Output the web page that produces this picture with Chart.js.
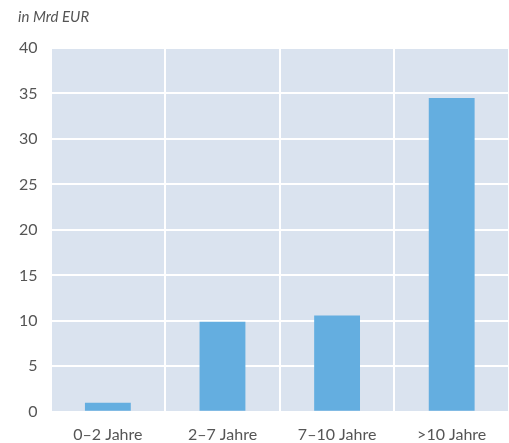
<!DOCTYPE html>
<html><head><meta charset="utf-8">
<script src="https://cdn.jsdelivr.net/npm/chart.js@4"></script>
<style>html,body{margin:0;padding:0;background:#fff;}#wrap{width:509px;height:443px;position:relative;}
#unit{position:absolute;left:18px;top:7px;font:italic 15px Lato,sans-serif;color:#555;}</style>
</head><body><div id="wrap"><canvas id="c" width="509" height="443"></canvas><div id="unit"></div></div>
<script>
const categories = ['0–2 Jahre', '2–7 Jahre', '7–10 Jahre', '>10 Jahre'];
const values = [1.0, 9.9, 10.6, 34.5];
const unitLabel = 'in Mrd EUR';
document.getElementById('unit').textContent = unitLabel;

const bgPlugin = {
  id: 'bg',
  beforeDraw(chart) {
    const {ctx, chartArea: a} = chart;
    ctx.save();
    ctx.fillStyle = '#dae3ef';
    ctx.fillRect(a.left, a.top, a.right - a.left, a.bottom - a.top);
    ctx.restore();
  }
};

new Chart(document.getElementById('c'), {
  type: 'bar',
  data: { labels: categories, datasets: [{ data: values, backgroundColor: '#64aee0', categoryPercentage: 0.4, barPercentage: 1.0 }] },
  options: {
    responsive: false, animation: false,
    layout: { padding: { left: 6, right: 0, top: 48, bottom: -14 } },
    plugins: { legend: { display: false }, tooltip: { enabled: false } },
    scales: {
      x: {
        grid: { color: '#ffffff', lineWidth: 2, offset: true, drawTicks: false },
        border: { display: false },
        ticks: { color: '#555', font: { family: 'Lato', size: 16 }, padding: 13 }
      },
      y: {
        min: 0, max: 40,
        grid: { color: '#ffffff', lineWidth: 2, drawTicks: false },
        border: { display: false },
        ticks: { stepSize: 5, color: '#555', font: { family: 'Lato', size: 16 }, padding: 13 }
      }
    }
  },
  plugins: [bgPlugin]
});
</script></body></html>
